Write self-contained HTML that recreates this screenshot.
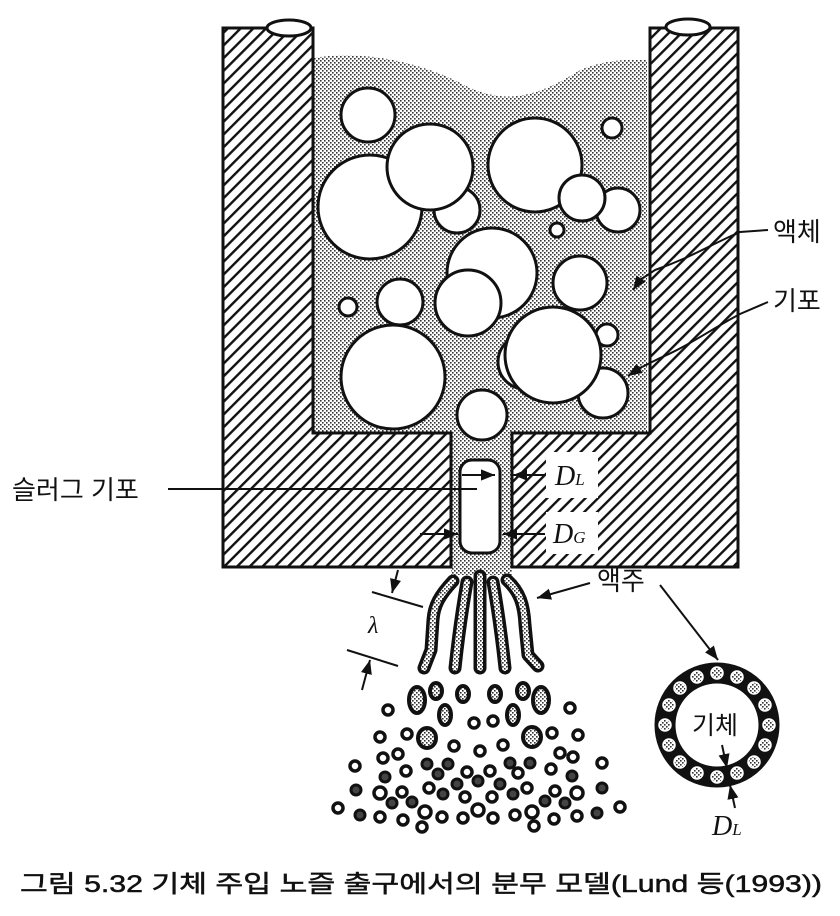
<!DOCTYPE html>
<html><head><meta charset="utf-8"><style>
html,body{margin:0;padding:0;background:#fff;}
svg{display:block;}
text{font-family:"Liberation Sans","Noto Sans CJK KR",sans-serif;fill:#111;}
.it{font-family:"Liberation Serif",serif;font-style:italic;}
</style></head><body>
<svg width="840" height="916" viewBox="0 0 840 916" xmlns="http://www.w3.org/2000/svg">
<defs>
<pattern id="hatch" patternUnits="userSpaceOnUse" width="9" height="9" patternTransform="rotate(-45)">
<rect width="9" height="9" fill="#fff"/><rect x="0" y="0" width="9" height="2.4" fill="#111"/>
</pattern>
<pattern id="dots" patternUnits="userSpaceOnUse" width="4" height="4">
<rect width="4" height="4" fill="#fff"/><rect x="0" y="0" width="1.6" height="1.6" fill="#333"/><rect x="2" y="2" width="1.6" height="1.6" fill="#333"/>
</pattern>
<marker id="ah" viewBox="0 0 10 10" refX="10" refY="5" markerWidth="7" markerHeight="7" orient="auto"><path d="M0,1 L10,5 L0,9 z" fill="#111"/></marker>
</defs>

<!-- liquid region -->
<path d="M313,58 C360,50 420,60 470,88 C510,105 540,95 580,70 C610,58 630,60 647,60 L647,433 L512,433 L512,575 L451,575 L451,433 L313,433 Z" fill="url(#dots)"/>

<!-- walls -->
<path d="M223,28 L313,28 L313,433 L451,433 L451,567 L223,567 Z" fill="url(#hatch)" stroke="#111" stroke-width="3"/>
<path d="M650,28 L738,28 L738,567 L512,567 L512,433 L650,433 Z" fill="url(#hatch)" stroke="#111" stroke-width="3"/>
<ellipse cx="289" cy="28" rx="22" ry="8" fill="#fff" stroke="#111" stroke-width="3"/>
<ellipse cx="688" cy="27" rx="22" ry="8" fill="#fff" stroke="#111" stroke-width="3"/>

<!-- white label boxes -->
<rect x="546" y="452" width="52" height="46" fill="#fff"/>
<rect x="546" y="512" width="52" height="42" fill="#fff"/>

<!-- bubbles -->
<g fill="#fff" stroke="#111" stroke-width="3">
<circle cx="368" cy="115" r="27"/>
<circle cx="370" cy="207" r="52"/>
<circle cx="457" cy="210" r="23"/>
<circle cx="430" cy="167" r="43"/>
<circle cx="535" cy="165" r="47"/>
<circle cx="612" cy="128" r="10"/>
<circle cx="618" cy="210" r="22"/>
<circle cx="582" cy="198" r="23"/>
<circle cx="557" cy="230" r="7"/>
<circle cx="492" cy="273" r="45"/>
<circle cx="468" cy="303" r="33"/>
<circle cx="580" cy="283" r="27"/>
<circle cx="400" cy="302" r="23"/>
<circle cx="348" cy="307" r="9"/>
<circle cx="393" cy="377" r="52"/>
<circle cx="607" cy="335" r="11"/>
<circle cx="603" cy="393" r="25"/>
<circle cx="525" cy="362" r="27"/>
<circle cx="553" cy="355" r="48"/>
<circle cx="482" cy="415" r="25"/>
</g>

<!-- slug bubble -->
<rect x="460" y="460" width="40" height="93" rx="12" fill="#fff" stroke="#111" stroke-width="3"/>

<!-- DL / DG marks -->
<line x1="462" y1="475" x2="495" y2="475" stroke="#111" stroke-width="2" marker-end="url(#ah)"/>
<line x1="545" y1="475" x2="513" y2="475" stroke="#111" stroke-width="2" marker-end="url(#ah)"/>
<line x1="420" y1="534" x2="458" y2="534" stroke="#111" stroke-width="2" marker-end="url(#ah)"/>
<line x1="545" y1="534" x2="503" y2="534" stroke="#111" stroke-width="2" marker-end="url(#ah)"/>
<text x="555" y="485" class="it" font-size="28">D<tspan font-size="17">L</tspan></text>
<text x="553" y="543" class="it" font-size="28">D<tspan font-size="17">G</tspan></text>

<!-- slug label -->
<text x="12" y="499" font-size="26">슬러그 기포</text>
<line x1="168" y1="489" x2="477" y2="489" stroke="#111" stroke-width="2"/>

<!-- right labels -->
<text x="773" y="241" font-size="26">액체</text>
<path d="M768,230 L740,232 C710,245 690,258 655,270 L640,280 L633,290" fill="none" stroke="#111" stroke-width="2" marker-end="url(#ah)"/>
<text x="773" y="310" font-size="26">기포</text>
<path d="M768,302 L740,314 C710,330 690,345 660,358 L640,368 L628,376" fill="none" stroke="#111" stroke-width="2" marker-end="url(#ah)"/>

<!-- jets -->
<g fill="none" stroke-linecap="round" stroke-linejoin="round">
<g stroke="#111" stroke-width="13">
<path d="M453,581 C440,595 434,605 433,620 L431,650 L424,668"/>
<path d="M467,582 C462,610 458,640 455,668"/>
<path d="M480,576 L480,668"/>
<path d="M493,582 C498,610 502,640 505,668"/>
<path d="M507,580 C520,592 524,605 525,625 L528,655 L538,666"/>
</g>
<g stroke="url(#dots)" stroke-width="6">
<path d="M453,581 C440,595 434,605 433,620 L431,650 L424,668"/>
<path d="M467,582 C462,610 458,640 455,668"/>
<path d="M480,576 L480,668"/>
<path d="M493,582 C498,610 502,640 505,668"/>
<path d="M507,580 C520,592 524,605 525,625 L528,655 L538,666"/>
</g>
</g>

<!-- lambda -->
<line x1="372" y1="592" x2="423" y2="607" stroke="#111" stroke-width="2"/>
<line x1="347" y1="650" x2="398" y2="666" stroke="#111" stroke-width="2"/>
<line x1="398" y1="570" x2="392" y2="593" stroke="#111" stroke-width="2" marker-end="url(#ah)"/>
<line x1="362" y1="690" x2="370" y2="660" stroke="#111" stroke-width="2" marker-end="url(#ah)"/>
<text x="368" y="633" class="it" font-size="24">λ</text>

<!-- 액주 -->
<text x="597" y="590" font-size="26">액주</text>
<line x1="590" y1="583" x2="537" y2="598" stroke="#111" stroke-width="2" marker-end="url(#ah)"/>
<line x1="660" y1="585" x2="718" y2="660" stroke="#111" stroke-width="2" marker-end="url(#ah)"/>

<!-- droplets -->
<g stroke="#111" stroke-width="4" fill="url(#dots)">
<ellipse cx="417" cy="700" rx="8" ry="13"/><ellipse cx="541" cy="700" rx="8" ry="13"/>
<ellipse cx="436" cy="691" rx="6" ry="8"/><ellipse cx="463" cy="694" rx="6" ry="8"/>
<ellipse cx="495" cy="694" rx="6" ry="8"/><ellipse cx="523" cy="691" rx="6" ry="8"/>
<ellipse cx="445" cy="715" rx="6" ry="10"/><ellipse cx="513" cy="715" rx="6" ry="10"/>
<ellipse cx="427" cy="738" rx="9" ry="10"/><ellipse cx="532" cy="737" rx="9" ry="10"/>
</g>
<g stroke="#111" stroke-width="3.5" fill="#fff">
<circle cx="388" cy="710" r="5"/><circle cx="570" cy="708" r="5"/><circle cx="474" cy="723" r="5"/><circle cx="493" cy="721" r="5"/>
<circle cx="380" cy="737" r="5"/><circle cx="407" cy="734" r="5"/><circle cx="552" cy="733" r="5"/><circle cx="578" cy="735" r="5"/>
<circle cx="454" cy="746" r="5"/><circle cx="480" cy="751" r="5"/><circle cx="503" cy="745" r="5"/><circle cx="383" cy="758" r="5"/>
<circle cx="398" cy="754" r="5"/><circle cx="560" cy="753" r="5"/><circle cx="573" cy="757" r="5"/><circle cx="355" cy="766" r="5"/>
<circle cx="406" cy="771" r="5"/><circle cx="467" cy="772" r="5"/><circle cx="490" cy="771" r="5"/><circle cx="518" cy="773" r="5"/>
<circle cx="551" cy="769" r="5"/><circle cx="380" cy="793" r="6"/><circle cx="402" cy="792" r="5"/><circle cx="429" cy="788" r="5"/>
<circle cx="465" cy="797" r="5"/><circle cx="492" cy="797" r="5"/><circle cx="527" cy="788" r="5"/><circle cx="555" cy="791" r="5"/>
<circle cx="577" cy="793" r="6"/><circle cx="338" cy="808" r="5"/><circle cx="380" cy="817" r="5"/><circle cx="403" cy="820" r="5"/>
<circle cx="425" cy="812" r="6"/><circle cx="442" cy="817" r="5"/><circle cx="463" cy="818" r="5"/><circle cx="478" cy="810" r="6"/>
<circle cx="493" cy="818" r="5"/><circle cx="515" cy="815" r="5"/><circle cx="532" cy="812" r="6"/><circle cx="554" cy="819" r="5"/>
<circle cx="577" cy="816" r="5"/><circle cx="422" cy="827" r="5"/><circle cx="534" cy="826" r="5"/><circle cx="620" cy="807" r="5"/>
<circle cx="602" cy="763" r="5"/>
</g>
<g stroke="#111" stroke-width="3" fill="#444">
<circle cx="427" cy="764" r="5"/><circle cx="448" cy="764" r="5"/><circle cx="510" cy="763" r="5"/><circle cx="530" cy="763" r="5"/>
<circle cx="438" cy="774" r="5"/><circle cx="385" cy="777" r="5"/><circle cx="572" cy="776" r="5"/><circle cx="478" cy="781" r="5"/>
<circle cx="457" cy="784" r="5"/><circle cx="500" cy="784" r="5"/><circle cx="356" cy="790" r="5"/><circle cx="443" cy="794" r="5"/>
<circle cx="513" cy="794" r="5"/><circle cx="392" cy="803" r="5"/><circle cx="412" cy="802" r="5"/><circle cx="545" cy="801" r="5"/>
<circle cx="565" cy="803" r="5"/><circle cx="360" cy="815" r="5"/><circle cx="597" cy="813" r="5"/><circle cx="602" cy="788" r="5"/>
</g>

<!-- ring -->
<circle cx="717" cy="725" r="52" fill="none" stroke="#111" stroke-width="21"/>
<g fill="url(#dots)" stroke="#fff" stroke-width="1.5">
<circle cx="769" cy="725" r="6"/><circle cx="765" cy="745" r="6"/><circle cx="754" cy="762" r="6"/><circle cx="737" cy="773" r="6"/>
<circle cx="717" cy="777" r="6"/><circle cx="697" cy="773" r="6"/><circle cx="680" cy="762" r="6"/><circle cx="669" cy="745" r="6"/>
<circle cx="665" cy="725" r="6"/><circle cx="669" cy="705" r="6"/><circle cx="680" cy="688" r="6"/><circle cx="697" cy="677" r="6"/>
<circle cx="717" cy="673" r="6"/><circle cx="737" cy="677" r="6"/><circle cx="754" cy="688" r="6"/><circle cx="765" cy="705" r="6"/>
</g>
<text x="692" y="734" font-size="25">기체</text>
<line x1="722" y1="745" x2="727" y2="768" stroke="#111" stroke-width="2" marker-end="url(#ah)"/>
<line x1="735" y1="808" x2="730" y2="785" stroke="#111" stroke-width="2" marker-end="url(#ah)"/>
<text x="712" y="835" class="it" font-size="28">D<tspan font-size="17">L</tspan></text>

<!-- caption -->
<text x="20" y="892" font-size="24" stroke="#111" stroke-width="0.5" textLength="802" lengthAdjust="spacingAndGlyphs">그림 5.32  기체 주입 노즐 출구에서의 분무 모델(Lund 등(1993))</text>
</svg>
</body></html>
